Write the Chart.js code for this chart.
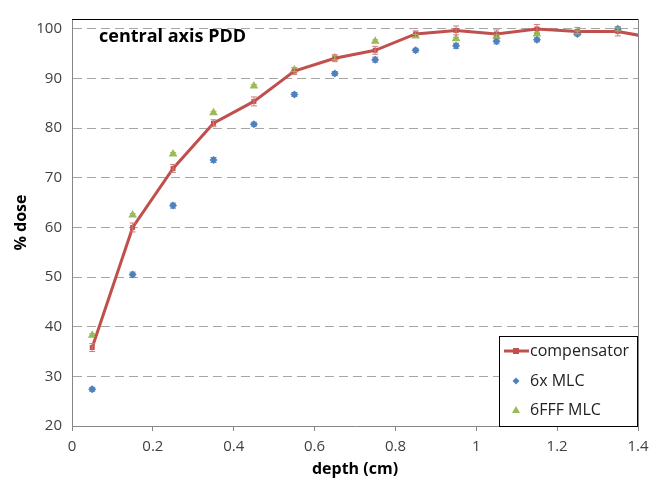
<!DOCTYPE html>
<html>
<head>
<meta charset="utf-8">
<script src="https://cdn.jsdelivr.net/npm/chart.js@4.4.0/dist/chart.umd.min.js"></script>
<style>
  html, body { margin: 0; padding: 0; background: #fff; }
  #wrap { width: 662px; height: 483px; }
</style>
</head>
<body>
<div id="wrap"><canvas id="pdd" width="662" height="483"></canvas></div>
<script>
// depth in cm
const depth = [0.05, 0.15, 0.25, 0.35, 0.45, 0.55, 0.65, 0.75, 0.85, 0.95, 1.05, 1.15, 1.25, 1.35];
const compDepth = [0.05, 0.15, 0.25, 0.35, 0.45, 0.55, 0.65, 0.75, 0.85, 0.95, 1.05, 1.15, 1.25, 1.35, 1.45];

// % dose
const compensator = [35.8, 60.0, 71.9, 81.0, 85.4, 91.5, 94.1, 95.7, 99.0, 99.7, 99.0, 100.0, 99.5, 99.5, 98.0];
const compErr     = [0.8, 0.9, 0.8, 0.7, 0.9, 0.7, 0.7, 0.8, 0.6, 0.9, 0.8, 0.9, 0.8, 0.9, 0.8];
const mlc6x       = [27.4, 50.5, 64.4, 73.6, 80.8, 86.8, 91.0, 93.8, 95.7, 96.6, 97.5, 97.8, 99.0, 100.0];
const mlc6xErr    = [0.4, 0.5, 0.5, 0.5, 0.4, 0.4, 0.4, 0.5, 0.4, 0.5, 0.5, 0.4, 0.4, 0.4];
const fff6        = [38.3, 62.5, 74.8, 83.1, 88.5, 91.8, 94.2, 97.5, 98.6, 98.0, 98.5, 99.0, 99.3, 99.9];
const fff6Err     = [0.3, 0.3, 0.3, 0.3, 0.3, 0.4, 0.4, 0.3, 0.3, 0.3, 0.3, 0.3, 0.3, 0.3];

const xTicks = [0, 0.2, 0.4, 0.6, 0.8, 1, 1.2, 1.4];
const yTicks = [20, 30, 40, 50, 60, 70, 80, 90, 100];

const RED = '#C0504D', BLUE = '#4F81BD', GREEN = '#9BBB59';
const FONT = "'Open Sans', sans-serif";

function pts(xs, ys) { return ys.map((y, i) => ({ x: xs[i], y: y })); }

// vertical error bars, drawn through the y scale
const errorBars = {
  id: 'errorBars',
  afterDatasetsDraw(chart) {
    const ctx = chart.ctx, y = chart.scales.y, area = chart.chartArea;
    ctx.save();
    ctx.beginPath();
    ctx.rect(area.left, area.top, area.right - area.left, area.bottom - area.top);
    ctx.clip();
    chart.data.datasets.forEach((ds, di) => {
      const meta = chart.getDatasetMeta(di);
      ctx.strokeStyle = ds.errColor;
      ctx.lineWidth = 1;
      meta.data.forEach((el, i) => {
        const v = ds.data[i].y, e = ds.err[i];
        const top = y.getPixelForValue(v + e), bot = y.getPixelForValue(v - e);
        ctx.beginPath();
        ctx.moveTo(el.x, top); ctx.lineTo(el.x, bot);
        ctx.moveTo(el.x - 3, top); ctx.lineTo(el.x + 3, top);
        ctx.moveTo(el.x - 3, bot); ctx.lineTo(el.x + 3, bot);
        ctx.stroke();
      });
    });
    ctx.restore();
  }
};

// frame, title and the legend box inside the plot
const frame = {
  id: 'frame',
  afterDraw(chart) {
    const ctx = chart.ctx, a = chart.chartArea;
    ctx.save();
    ctx.lineWidth = 1;
    ctx.strokeStyle = '#000';
    ctx.beginPath(); ctx.moveTo(a.left, a.top + 0.5); ctx.lineTo(a.right, a.top + 0.5); ctx.stroke();
    ctx.strokeStyle = '#868686';
    ctx.beginPath(); ctx.moveTo(a.right + 0.5, a.top); ctx.lineTo(a.right + 0.5, a.bottom); ctx.stroke();

    ctx.fillStyle = '#000';
    ctx.font = "bold 18px " + FONT;
    ctx.textBaseline = 'alphabetic';
    ctx.fillText('central axis PDD', 99, 42);

    // legend
    const w = 139, h = 90, lx = a.right - w, ly = a.bottom - h;
    ctx.fillStyle = '#fff';
    ctx.fillRect(lx, ly, w, h);
    ctx.strokeStyle = '#000';
    ctx.strokeRect(lx + 0.5, ly + 0.5, w - 1, h);
    const rows = [ly + 15, ly + 45, ly + 74];
    ctx.font = "16px " + FONT;
    ctx.textBaseline = 'middle';
    chart.data.datasets.forEach((ds, i) => {
      const cy = rows[i], cx = lx + 17;
      ctx.fillStyle = ds.borderColor;
      ctx.strokeStyle = ds.borderColor;
      if (ds.showLine) {
        ctx.lineWidth = 3;
        ctx.beginPath(); ctx.moveTo(lx + 5, cy); ctx.lineTo(lx + 30, cy); ctx.stroke();
        ctx.fillRect(cx - 3, cy - 3, 6, 6);
      } else if (ds.pointStyle === 'rectRot') {
        ctx.beginPath();
        ctx.moveTo(cx, cy - 3.5); ctx.lineTo(cx + 3.5, cy); ctx.lineTo(cx, cy + 3.5); ctx.lineTo(cx - 3.5, cy);
        ctx.closePath(); ctx.fill();
      } else {
        ctx.beginPath();
        ctx.moveTo(cx, cy - 4); ctx.lineTo(cx + 4, cy + 3); ctx.lineTo(cx - 4, cy + 3);
        ctx.closePath(); ctx.fill();
      }
      ctx.fillStyle = '#222';
      ctx.fillText(ds.label, lx + 31, cy);
    });
    ctx.restore();
  }
};

new Chart(document.getElementById('pdd'), {
  type: 'scatter',
  data: {
    datasets: [
      {
        label: 'compensator', data: pts(compDepth, compensator), err: compErr, errColor: '#D27B78',
        showLine: true, borderColor: RED, backgroundColor: RED, borderWidth: 3,
        pointStyle: 'rect', pointRadius: 3.5, pointBorderWidth: 0, tension: 0
      },
      {
        label: '6x MLC', data: pts(depth, mlc6x), err: mlc6xErr, errColor: BLUE,
        borderColor: BLUE, backgroundColor: BLUE,
        pointStyle: 'rectRot', pointRadius: 4, pointBorderWidth: 0
      },
      {
        label: '6FFF MLC', data: pts(depth, fff6), err: fff6Err, errColor: GREEN,
        borderColor: GREEN, backgroundColor: GREEN,
        pointStyle: 'triangle', pointRadius: 5, pointBorderWidth: 0
      }
    ]
  },
  options: {
    responsive: false,
    animation: false,
    layout: { padding: { top: 10, right: 24, left: 0, bottom: 0 } },
    plugins: { legend: { display: false }, tooltip: { enabled: false } },
    scales: {
      x: {
        type: 'linear', min: 0, max: 1.4,
        afterBuildTicks: s => { s.ticks = xTicks.map(v => ({ value: v })); },
        afterFit: s => { s.height = 57; },
        ticks: { color: '#404040', font: { family: FONT, size: 15 }, padding: 7,
                 callback: v => String(v) },
        grid: { drawOnChartArea: false, drawTicks: true, tickLength: 5, color: '#868686' },
        border: { color: '#868686', width: 1 },
        title: { display: true, text: 'depth (cm)', color: '#000',
                 font: { family: FONT, size: 16, weight: 'bold' }, padding: { top: 0, bottom: 4 } }
      },
      y: {
        min: 20, max: 102,
        afterBuildTicks: s => { s.ticks = yTicks.map(v => ({ value: v })); },
        afterFit: s => { s.width = 72; },
        ticks: { color: '#404040', font: { family: FONT, size: 15 }, padding: 10 },
        grid: {
          drawTicks: false,
          color: c => c.tick && c.tick.value === 20 ? 'rgba(0,0,0,0)' : '#A6A6A6',
          lineWidth: 1
        },
        border: { color: '#868686', width: 1, dash: [9, 5] },
        title: { display: true, text: '% dose', color: '#000',
                 font: { family: FONT, size: 16, weight: 'bold' }, padding: { top: 12, bottom: 0 } }
      }
    }
  },
  plugins: [errorBars, frame]
});
</script>
</body>
</html>
